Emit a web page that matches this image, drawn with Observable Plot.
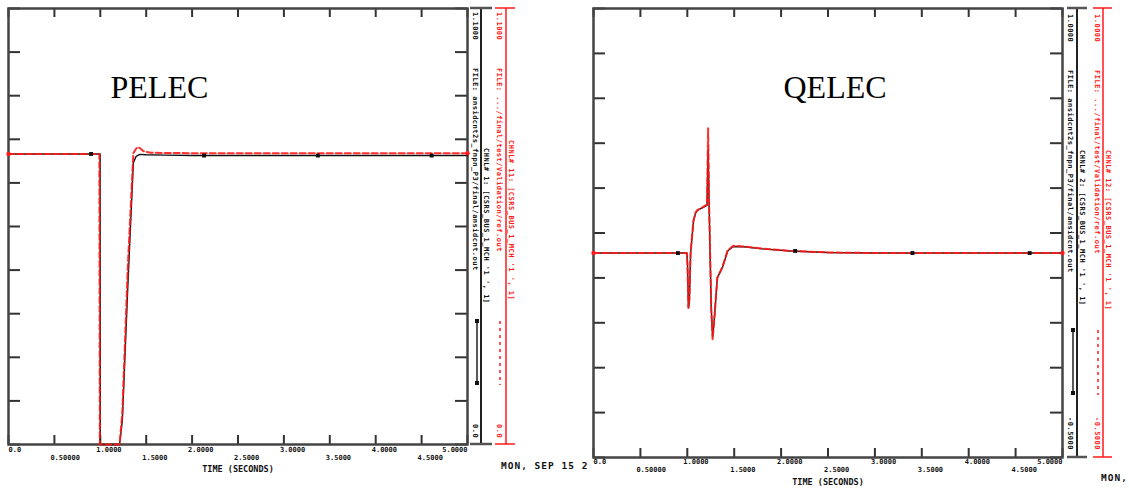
<!DOCTYPE html>
<html><head><meta charset="utf-8">
<script src="https://cdn.jsdelivr.net/npm/d3@7"></script>
<script src="https://cdn.jsdelivr.net/npm/@observablehq/plot@0.6"></script>
<style>
body{margin:0;background:#fff;}
#wrap{position:relative;width:1129px;height:493px;overflow:hidden;background:#fff;}
#wrap svg{position:absolute;top:0;}
</style></head><body><div id="wrap"></div>
<script>
// ---- shared axis data ----
const xTicks = [0, 0.5, 1, 1.5, 2, 2.5, 3, 3.5, 4, 4.5, 5];
const xTickLabels = ["0.0","0.50000","1.0000","1.5000","2.0000","2.5000","3.0000","3.5000","4.0000","4.5000","5.0000"];
const xTitle = "TIME (SECONDS)";

// ---- PELEC panel ----
const pelecTitle = "PELEC";
const pelecYTicks = [0, 0.11, 0.22, 0.33, 0.44, 0.55, 0.66, 0.77, 0.88, 0.99, 1.1];
const pelecYTop = "1.1000", pelecYBottom = "0.0";
const pelecBlackT = [0, 0.998, 1.0, 1.21, 1.24, 1.30, 1.36, 1.39, 1.43, 1.5, 1.7, 2.0, 3.0, 4.0, 5.0];
const pelecBlackV = [0.733, 0.733, 0.0, 0.0, 0.06, 0.40, 0.71, 0.727, 0.732, 0.731, 0.730, 0.729, 0.729, 0.729, 0.729];
const pelecRedT = [0, 0.99, 0.995, 1.21, 1.24, 1.30, 1.36, 1.40, 1.43, 1.47, 1.55, 2.0, 3.0, 4.0, 5.0];
const pelecRedV = [0.733, 0.733, 0.0, 0.0, 0.08, 0.45, 0.735, 0.75, 0.748, 0.740, 0.736, 0.735, 0.735, 0.735, 0.735];
const pelecMarkT = [0.9, 2.13, 3.37, 4.61];
const pelecMarkV = [0.733, 0.729, 0.729, 0.729];
const pelecRedMarkT = [0, 5];
const pelecRedMarkV = [0.733, 0.735];
const pelecBlackFile = "FILE: ansidcnt2s_fnpn_P3/final/ansidcnt.out";
const pelecBlackChnl = "CHNL# 1: [CSRS_BUS_1_MCH '1 ', 1]";
const pelecRedFile = "FILE: .../final/test/Validation/ref.out";
const pelecRedChnl = "CHNL# 11: [CSRS_BUS_1_MCH '1 ', 1]";

// ---- QELEC panel ----
const qelecTitle = "QELEC";
const qelecYTicks = [-0.5, -0.35, -0.2, -0.05, 0.1, 0.25, 0.4, 0.55, 0.7, 0.85, 1.0];
const qelecYTop = "1.0000", qelecYBottom = "-0.5000";
const qelecBlackT = [0, 0.995, 1.002, 1.012, 1.022, 1.035, 1.066, 1.09, 1.11, 1.17, 1.21, 1.222, 1.232, 1.255, 1.27, 1.285, 1.32, 1.375, 1.43, 1.49, 1.6, 1.8, 2.1, 2.5, 3.0, 4.0, 5.0];
const qelecBlackV = [0.183, 0.183, 0.15, 0.0, 0.02, 0.18, 0.29, 0.318, 0.326, 0.336, 0.342, 0.53, 0.35, 0.0, -0.098, -0.05, 0.10, 0.135, 0.19, 0.205, 0.204, 0.197, 0.19, 0.185, 0.183, 0.183, 0.183];
const qelecRedT = [0, 0.995, 1.002, 1.012, 1.022, 1.035, 1.066, 1.09, 1.11, 1.17, 1.21, 1.222, 1.232, 1.255, 1.27, 1.285, 1.32, 1.375, 1.43, 1.49, 1.6, 1.8, 2.1, 2.5, 3.0, 4.0, 5.0];
const qelecRedV = [0.183, 0.183, 0.14, 0.0, 0.03, 0.185, 0.292, 0.32, 0.327, 0.337, 0.345, 0.60, 0.36, 0.0, -0.105, -0.05, 0.10, 0.137, 0.192, 0.207, 0.205, 0.198, 0.19, 0.185, 0.183, 0.183, 0.183];
const qelecMarkT = [0.9, 2.15, 3.4, 4.65];
const qelecMarkV = [0.183, 0.19, 0.183, 0.183];
const qelecRedMarkT = [0, 5];
const qelecRedMarkV = [0.183, 0.183];
const qelecBlackFile = "FILE: ansidcnt2s_fnpn_P3/final/ansidcnt.out";
const qelecBlackChnl = "CHNL# 2: [CSRS_BUS_1_MCH '1 ', 1]";
const qelecRedFile = "FILE: .../final/test/Validation/ref.out";
const qelecRedChnl = "CHNL# 12: [CSRS_BUS_1_MCH '1 ', 1]";

const RED = "#ff1a1a";
const MONO = "DejaVu Sans Mono";

function series(T, V) { return T.map((t, i) => ({t, v: V[i]})); }

function panel(cfg) {
  const W = cfg.width, H = cfg.height;
  const fw = W - cfg.ml - cfg.mr, fh = H - cfg.mt - cfg.mb;
  const tickData = xTicks.map((t, i) => ({t, label: xTickLabels[i], i}));
  const lblStyle = {fontSize: 7, fontWeight: "bold", fontFamily: MONO, fill: "#111"};
  const svg = Plot.plot({
    width: W, height: H,
    marginLeft: cfg.ml, marginRight: cfg.mr, marginTop: cfg.mt, marginBottom: cfg.mb,
    x: {domain: [0, 5], axis: null},
    y: {domain: cfg.yDomain, axis: null},
    style: {background: "transparent", overflow: "visible"},
    marks: [
      // inward ticks on all sides
      Plot.tickX(xTicks, {x: d => d, insetTop: fh - 9, stroke: "#333", strokeWidth: 2}),
      Plot.tickX(xTicks, {x: d => d, insetBottom: fh - 9, stroke: "#333", strokeWidth: 2}),
      Plot.tickY(cfg.yTicks, {y: d => d, insetRight: fw - 12, stroke: "#333", strokeWidth: 2}),
      Plot.tickY(cfg.yTicks, {y: d => d, insetLeft: fw - 12, stroke: "#333", strokeWidth: 2}),
      Plot.frame({stroke: "#444", strokeWidth: 2.5}),
      // x tick labels: alternating rows
      Plot.text(tickData.filter(d => d.i === 0), {x: "t", text: "label", frameAnchor: "bottom", dy: cfg.row1, textAnchor: "start", dx: 0, ...lblStyle}),
      Plot.text(tickData.filter(d => d.i > 0 && d.i < 10 && d.i % 2 === 0), {x: "t", text: "label", frameAnchor: "bottom", dy: cfg.row1, textAnchor: "start", dx: -4, ...lblStyle}),
      Plot.text(tickData.filter(d => d.i % 2 === 1), {x: "t", text: "label", frameAnchor: "bottom", dy: cfg.row2, textAnchor: "start", dx: -4, ...lblStyle}),
      Plot.text(tickData.filter(d => d.i === 10), {x: "t", text: "label", frameAnchor: "bottom", dy: cfg.row1, textAnchor: "end", dx: 0, ...lblStyle}),
      Plot.text([xTitle], {frameAnchor: "bottom", dy: cfg.row3, fontSize: 8.5, fontWeight: "bold", fontFamily: MONO, fill: "#111", letterSpacing: 0.8}),
      // data
      Plot.line(series(cfg.blackT, cfg.blackV), {x: "t", y: "v", stroke: "#111", strokeWidth: 1.4}),
      Plot.line(series(cfg.redT, cfg.redV), {x: "t", y: "v", stroke: RED, strokeWidth: 2, strokeDasharray: "6,3", strokeOpacity: 0.9}),
      Plot.dot(series(cfg.markT, cfg.markV), {x: "t", y: "v", symbol: "square", r: 2.2, fill: "#111"}),
      Plot.dot(series(cfg.redMarkT, cfg.redMarkV), {x: "t", y: "v", r: 2.2, fill: RED}),
      Plot.text([cfg.title], {frameAnchor: "top-left", dx: cfg.titleX, dy: 79, lineAnchor: "middle", fontSize: 32, fontFamily: "Liberation Serif", fill: "#000", textAnchor: "start"})
    ]
  });
  svg.style.left = cfg.left + "px";
  // right-hand channel annotation panel
  const g = d3.select(svg).append("g").attr("text-anchor", "start");
  const s = cfg.side, top = cfg.mt, bot = H - cfg.mb;
  const vtext = (x, y, txt, col) => g.append("text")
    .attr("transform", `translate(${x},${y}) rotate(90)`)
    .attr("text-anchor", "start")
    .attr("dominant-baseline", "central")
    .attr("font-family", MONO).attr("font-size", 7).attr("font-weight", "bold")
    .attr("letter-spacing", 0.5)
    .attr("fill", col).text(txt);
  // black axis
  g.append("line").attr("x1", s.bLine).attr("x2", s.bLine).attr("y1", top).attr("y2", bot).attr("stroke", "#222").attr("stroke-width", 2);
  g.append("line").attr("x1", s.bBar[0]).attr("x2", s.bBar[1]).attr("y1", top).attr("y2", top).attr("stroke", "#555").attr("stroke-width", 2.5);
  g.append("line").attr("x1", s.bBar[0]).attr("x2", s.bBar[1]).attr("y1", bot).attr("y2", bot).attr("stroke", "#555").attr("stroke-width", 2.5);
  // red axis
  g.append("line").attr("x1", s.rLine).attr("x2", s.rLine).attr("y1", top).attr("y2", bot).attr("stroke", RED).attr("stroke-width", 1.5);
  g.append("line").attr("x1", s.rBar[0]).attr("x2", s.rBar[1]).attr("y1", top).attr("y2", top).attr("stroke", RED).attr("stroke-width", 1.5);
  g.append("line").attr("x1", s.rBar[0]).attr("x2", s.rBar[1]).attr("y1", bot).attr("y2", bot).attr("stroke", RED).attr("stroke-width", 1.5);
  // texts
  vtext(s.bCol1, s.topY, cfg.yTop, "#111");
  vtext(s.bCol1, s.fileY, cfg.blackFile, "#111");
  vtext(s.bCol1, s.botY, cfg.yBottom, "#111");
  vtext(s.bCol2, s.bChnlY, cfg.blackChnl, "#111");
  vtext(s.rCol1, s.topY, cfg.yTop, RED);
  vtext(s.rCol1, s.fileY, cfg.redFile, RED);
  vtext(s.rCol1, s.botY, cfg.yBottom, RED);
  vtext(s.rCol2, s.rChnlY, cfg.redChnl, RED);
  // legend samples
  g.append("line").attr("x1", s.bLeg).attr("x2", s.bLeg).attr("y1", s.legY[0]).attr("y2", s.legY[1]).attr("stroke", "#222").attr("stroke-width", 1.5);
  [s.legY[0], s.legY[1]].forEach(y => g.append("rect").attr("x", s.bLeg - 2).attr("y", y - 2).attr("width", 4).attr("height", 4).attr("fill", "#111"));
  g.append("line").attr("x1", s.rLeg).attr("x2", s.rLeg).attr("y1", s.legY[0]).attr("y2", s.legY[1] + 2).attr("stroke", RED).attr("stroke-width", 1.5).attr("stroke-dasharray", "3,4");
  // date stamp
  g.append("text").attr("x", cfg.date.x).attr("y", cfg.date.y).attr("text-anchor", "start").attr("font-family", MONO).attr("font-size", 9.5)
    .attr("font-weight", "bold").attr("letter-spacing", 1).attr("fill", "#111").text(cfg.date.text);
  return svg;
}

const wrap = document.getElementById("wrap");
wrap.appendChild(panel({
  left: 0, width: 560, height: 493, ml: 8, mr: 93, mt: 8, mb: 49,
  yDomain: [0, 1.1], yTicks: pelecYTicks, yTop: pelecYTop, yBottom: pelecYBottom,
  row1: 7, row2: 15, row3: 27,
  blackT: pelecBlackT, blackV: pelecBlackV, redT: pelecRedT, redV: pelecRedV,
  markT: pelecMarkT, markV: pelecMarkV, redMarkT: pelecRedMarkT, redMarkV: pelecRedMarkV,
  title: pelecTitle, titleX: 102,
  blackFile: pelecBlackFile, blackChnl: pelecBlackChnl, redFile: pelecRedFile, redChnl: pelecRedChnl,
  side: {bLine: 481, bBar: [470, 492], rLine: 506, rBar: [495, 515], bCol1: 475, bCol2: 486, rCol1: 499, rCol2: 511,
         topY: 12, fileY: 68, botY: 424, bChnlY: 148, rChnlY: 140, bLeg: 477, rLeg: 500, legY: [321, 383]},
  date: {x: 501, y: 469, text: "MON, SEP 15 2"}
}));
wrap.appendChild(panel({
  left: 560, width: 569, height: 493, ml: 33, mr: 67, mt: 8, mb: 36,
  yDomain: [-0.5, 1.0], yTicks: qelecYTicks, yTop: qelecYTop, yBottom: qelecYBottom,
  row1: 6, row2: 14, row3: 27,
  blackT: qelecBlackT, blackV: qelecBlackV, redT: qelecRedT, redV: qelecRedV,
  markT: qelecMarkT, markV: qelecMarkV, redMarkT: qelecRedMarkT, redMarkV: qelecRedMarkV,
  title: qelecTitle, titleX: 190,
  blackFile: qelecBlackFile, blackChnl: qelecBlackChnl, redFile: qelecRedFile, redChnl: qelecRedChnl,
  side: {bLine: 517, bBar: [507, 527], rLine: 543, rBar: [533, 552], bCol1: 510, bCol2: 522, rCol1: 537, rCol2: 548,
         topY: 14, fileY: 70, botY: 417, bChnlY: 150, rChnlY: 150, bLeg: 513, rLeg: 538, legY: [330, 393]},
  date: {x: 541, y: 481, text: "MON,"}
}));
</script>
</body></html>
